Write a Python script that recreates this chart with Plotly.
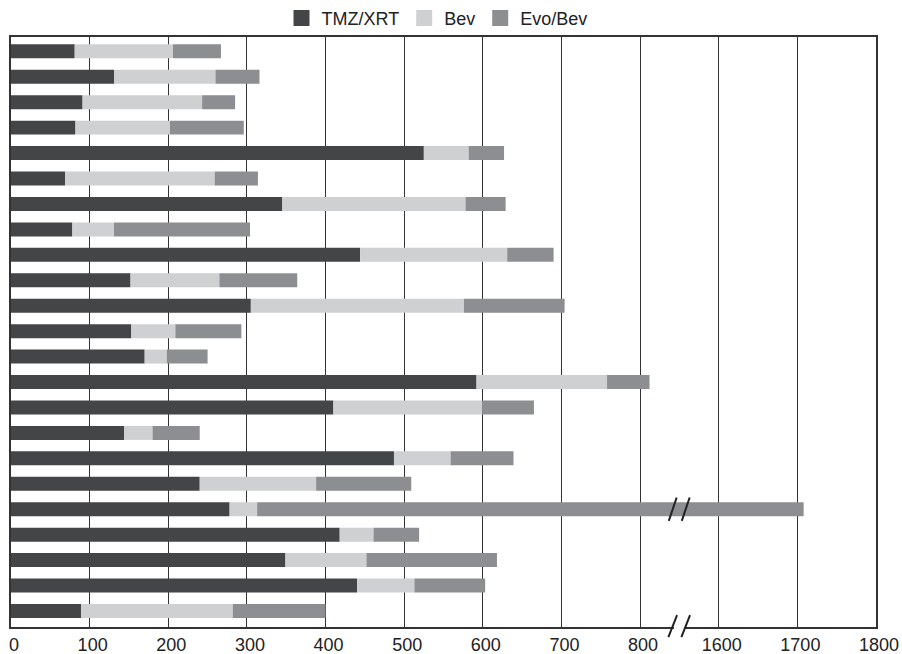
import plotly.graph_objects as go

# ---- data (actual values, days) ----
patients = list(range(1, 24))
tmz_xrt = [81, 131, 91, 82, 525, 69, 345, 78, 444, 152, 305, 153, 170,
           592, 410, 144, 487, 240, 278, 418, 349, 440, 89]
bev = [125, 129, 152, 120, 57, 190, 233, 53, 187, 113, 271, 56, 28,
       166, 189, 36, 72, 148, 35, 43, 103, 73, 193]
evo_bev = [61, 56, 42, 94, 45, 55, 51, 173, 59, 99, 128, 84, 52,
           54, 66, 60, 80, 121, 1395, 58, 166, 90, 118]

series_names = ["TMZ/XRT", "Bev", "Evo/Bev"]
colors = ["#444547", "#cfd0d2", "#8d8e92"]

tick_values = [0, 100, 200, 300, 400, 500, 600, 700, 800, 1600, 1700, 1800]
tick_labels = [str(v) for v in tick_values]

# axis break: 800 -> 800 shown, 1600 -> 900 shown
BREAK_AT = 850
BREAK_SHIFT = 700


def disp(v):
    return v if v <= BREAK_AT else v - BREAK_SHIFT


fig = go.Figure()
ypos = [i for i in range(len(patients))]
starts = [0] * len(patients)
for name, vals, col in zip(series_names, [tmz_xrt, bev, evo_bev], colors):
    ends = [s + v for s, v in zip(starts, vals)]
    base = [disp(s) for s in starts]
    length = [disp(e) - disp(s) for s, e in zip(starts, ends)]
    fig.add_trace(go.Bar(
        y=ypos, x=length, base=base, orientation="h",
        marker=dict(color=col, line=dict(width=0)),
        width=0.55, showlegend=False, name=name,
        customdata=[[p, v] for p, v in zip(patients, vals)],
        hovertemplate="Patient %{customdata[0]}: %{customdata[1]}<extra>" + name + "</extra>",
    ))
    starts = ends

# legend entries (square markers)
for name, col in zip(series_names, colors):
    fig.add_trace(go.Scatter(
        x=[None], y=[None], mode="markers", name=name,
        marker=dict(symbol="square", size=16, color=col),
    ))

# break markers
long_row = max(range(len(patients)), key=lambda i: tmz_xrt[i] + bev[i] + evo_bev[i])
shapes = []
for cx in (BREAK_AT - 8.5, BREAK_AT + 8):
    shapes.append(dict(type="line", xref="x", yref="y",
                       x0=cx - 5, x1=cx + 5, y0=long_row + 0.46, y1=long_row - 0.46,
                       line=dict(color="#222", width=2), layer="above"))
# gap in bottom axis line
shapes.append(dict(type="rect", xref="x", yref="paper",
                   x0=BREAK_AT - 7, x1=BREAK_AT + 6.5, y0=-0.006, y1=0.006,
                   fillcolor="white", line=dict(width=0), layer="above"))
for cx in (BREAK_AT - 8.5, BREAK_AT + 8):
    shapes.append(dict(type="line", xref="x", yref="paper",
                       x0=cx - 5.5, x1=cx + 5.5, y0=-0.017, y1=0.02,
                       line=dict(color="#222", width=2), layer="above"))

fig.update_layout(
    width=902, height=654,
    margin=dict(l=11, r=26, t=35, b=27),
    paper_bgcolor="white", plot_bgcolor="white",
    barmode="overlay",
    font=dict(family="Liberation Sans, Arial, sans-serif", color="#222"),
    legend=dict(orientation="h", xref="paper", yref="container",
                x=0.4925, xanchor="center", y=0.972, yanchor="middle",
                font=dict(size=18, color="#222"), itemwidth=30,
                bgcolor="rgba(0,0,0,0)"),
    shapes=shapes,
)
fig.update_xaxes(
    range=[0, 1100], automargin=False,
    tickvals=[disp(v) for v in tick_values], ticktext=tick_labels,
    tickfont=dict(size=18, color="#222"), ticks="", ticklen=0, ticklabelshift=3,
    ticklabelstandoff=0, ticklabeloverflow="allow",
    showgrid=True, gridcolor="#333", gridwidth=1.3,
    showline=True, linecolor="#333", linewidth=2, mirror=True,
    zeroline=False,
)
fig.update_yaxes(
    range=[22.63, -0.57], showticklabels=False, ticks="", automargin=False,
    showgrid=False, zeroline=False,
    showline=True, linecolor="#333", linewidth=2, mirror=True,
)

fig.write_html("out.html")
